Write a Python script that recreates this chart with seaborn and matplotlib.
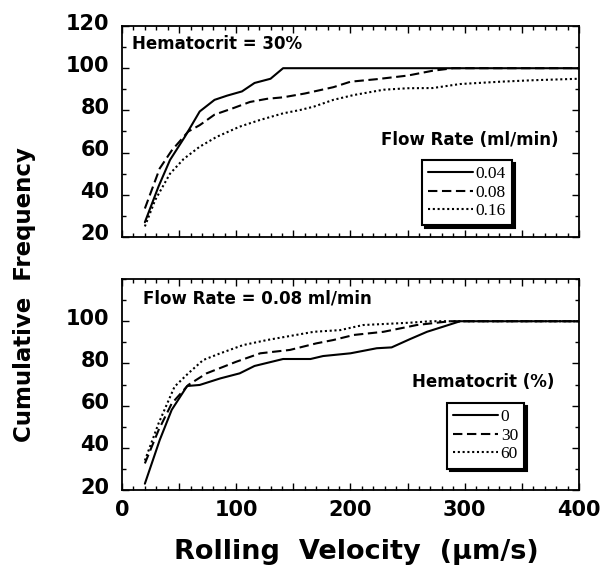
import matplotlib
matplotlib.use("Agg")
import matplotlib.pyplot as plt
import pandas as pd
import seaborn as sns
from matplotlib.ticker import MultipleLocator, FixedLocator, FuncFormatter
from matplotlib.transforms import ScaledTranslation

# ---- upper panel: hematocrit 30 %, three flow rates (ml/min) ----
flow_labels = ["0.04", "0.08", "0.16"]
vel_f004 = [20, 32, 42, 55, 68, 81, 92, 105, 116, 130, 141, 400]
frq_f004 = [27, 44, 56.5, 67.5, 79.5, 85, 87, 89, 93, 95, 100, 100]
vel_f008 = [20, 33, 43.5, 58, 68, 81, 97, 112, 127, 141, 160, 185, 200, 223, 250, 272, 290, 400]
frq_f008 = [33.5, 52.5, 61, 70, 73, 78, 81, 84, 85.5, 86.2, 88, 91, 93.6, 94.8, 96.5, 98.8, 100, 100]
vel_f016 = [20, 29, 42, 54, 68, 83, 103, 121, 141, 156, 168, 185, 203, 229, 250, 272, 296, 331, 360, 400]
frq_f016 = [25, 37.5, 50, 57, 62.8, 67.5, 72.3, 75.5, 78.6, 80.2, 81.8, 85, 87.3, 89.8, 90.5, 90.6, 92.5, 93.6, 94.3, 95]

# ---- lower panel: flow rate 0.08 ml/min, three hematocrits (%) ----
hct_labels = ["0", "30", "60"]
vel_h0 = [20, 33, 43.5, 57, 68, 86, 103, 116, 141, 165, 176, 200, 223, 236, 252, 267, 281, 296, 400]
frq_h0 = [23, 43.7, 58, 69.3, 69.8, 72.9, 75.3, 78.8, 82.1, 82.1, 83.5, 84.8, 87.2, 87.6, 91.5, 95, 97.4, 100, 100]
vel_h30 = [20, 32, 43.5, 58, 74, 100, 121, 147, 170, 185, 203, 229, 258, 287, 400]
frq_h30 = [32.6, 48.4, 61, 69.8, 75.3, 80.8, 84.8, 86.4, 89.5, 91.1, 93.5, 95, 98.2, 100, 100]
vel_h60 = [20, 32, 46, 58, 71, 86, 106, 127, 147, 168, 191, 211, 252, 270, 400]
frq_h60 = [34, 51.6, 69, 75.3, 81.6, 84.8, 88.7, 91.1, 93, 95, 95.8, 98.2, 99.3, 100, 100]

x_ticklabels = ["0", "100", "200", "300", "400"]


def long_table(names, vels, freqs):
    parts = [pd.DataFrame({"velocity": v, "freq": f, "series": n})
             for n, v, f in zip(names, vels, freqs)]
    return pd.concat(parts, ignore_index=True)


sns.set_theme(style="ticks")
plt.rcParams["font.family"] = ["DejaVu Sans"]
plt.rcParams.update({"text.color": "black", "axes.labelcolor": "black",
                     "xtick.color": "black", "ytick.color": "black",
                     "axes.edgecolor": "black"})

fig = plt.figure(figsize=(6.02, 5.69), dpi=100)
ax_top = fig.add_axes([0.2027, 0.5835, 0.759, 0.3708])
ax_bot = fig.add_axes([0.2027, 0.1388, 0.759, 0.3708])

dash_patterns = ["", (4.5, 2.2), (1.0, 1.3)]

panels = [
    (ax_top, flow_labels, [vel_f004, vel_f008, vel_f016], [frq_f004, frq_f008, frq_f016]),
    (ax_bot, hct_labels, [vel_h0, vel_h30, vel_h60], [frq_h0, frq_h30, frq_h60]),
]

serif_prop = {"family": "Liberation Serif", "size": 12.5}
shadow_props = {"facecolor": "black", "edgecolor": "black", "alpha": 1.0}

for ax, names, vels, freqs in panels:
    df = long_table(names, vels, freqs)
    sns.lineplot(data=df, x="velocity", y="freq", style="series",
                 style_order=names, dashes=dict(zip(names, dash_patterns)),
                 color="black", linewidth=1.5, sort=False, estimator=None,
                 legend=False, ax=ax)
    ax.set_xlim(0, 400)
    ax.set_ylim(20, 120)
    ax.set_xlabel("")
    ax.set_ylabel("")
    for sp in ax.spines.values():
        sp.set_visible(True)
        sp.set_linewidth(1.3)
        sp.set_color("black")
    ax.xaxis.set_major_locator(MultipleLocator(50))
    ax.xaxis.set_minor_locator(MultipleLocator(10))
    ax.xaxis.set_major_formatter(FuncFormatter(
        lambda v, p: x_ticklabels[int(round(v / 100))] if round(v) % 100 == 0 else ""))
    ax.yaxis.set_minor_locator(MultipleLocator(10))
    ax.tick_params(which="both", direction="in", top=True, right=True,
                   color="black", labelcolor="black", width=1.0)
    ax.tick_params(which="major", length=5)
    ax.tick_params(which="minor", length=3)
    ax.tick_params(axis="y", which="major", pad=9, labelsize=15)
    ax.tick_params(axis="x", which="major", pad=7, labelsize=15)

    lines = ax.get_lines()[:3]
    leg = ax.legend(lines, names, loc="upper left", frameon=True, fancybox=False,
                    shadow=shadow_props, prop=serif_prop, handlelength=2.6,
                    handletextpad=0.15, labelspacing=0.14, borderpad=0.35,
                    borderaxespad=0, framealpha=1)
    leg.get_frame().set_edgecolor("black")
    leg.get_frame().set_linewidth(1.5)
    for t in leg.get_texts():
        t.set_color("black")

ax_top.yaxis.set_major_locator(FixedLocator([20, 40, 60, 80, 100, 120]))
ax_bot.yaxis.set_major_locator(FixedLocator([20, 40, 60, 80, 100]))
ax_top.tick_params(axis="x", labelbottom=False)

ax_top.get_legend().set_bbox_to_anchor((0.656, 0.365), transform=ax_top.transAxes)
ax_bot.get_legend().set_bbox_to_anchor((0.711, 0.412), transform=ax_bot.transAxes)

for ax in (ax_top, ax_bot):
    for lbl in ax.get_yticklabels() + ax.get_xticklabels():
        lbl.set_fontweight("bold")
    for lbl in ax.get_yticklabels():
        lbl.set_transform(lbl.get_transform() +
                          ScaledTranslation(0, 0.045, fig.dpi_scale_trans))

# panel annotations and legend titles
ax_top.text(0.022, 0.915, "Hematocrit = 30%", transform=ax_top.transAxes,
            ha="left", va="center", fontsize=12, fontweight="bold")
ax_top.text(0.7615, 0.46, "Flow Rate (ml/min)", transform=ax_top.transAxes,
            ha="center", va="center", fontsize=12, fontweight="bold")
ax_bot.text(0.046, 0.91, "Flow Rate = 0.08 ml/min", transform=ax_bot.transAxes,
            ha="left", va="center", fontsize=12, fontweight="bold")
ax_bot.text(0.791, 0.512, "Hematocrit (%)", transform=ax_bot.transAxes,
            ha="center", va="center", fontsize=12, fontweight="bold")

# shared axis titles
fig.text(0.592, 0.029, "Rolling  Velocity  (\u00b5m/s)", ha="center", va="center",
         fontsize=19.5, fontweight="bold")
fig.text(0.0415, 0.4815, "Cumulative  Frequency", ha="center", va="center",
         rotation=90, fontsize=16.5, fontweight="bold")

fig.savefig("out.png", dpi=100, facecolor="white")
